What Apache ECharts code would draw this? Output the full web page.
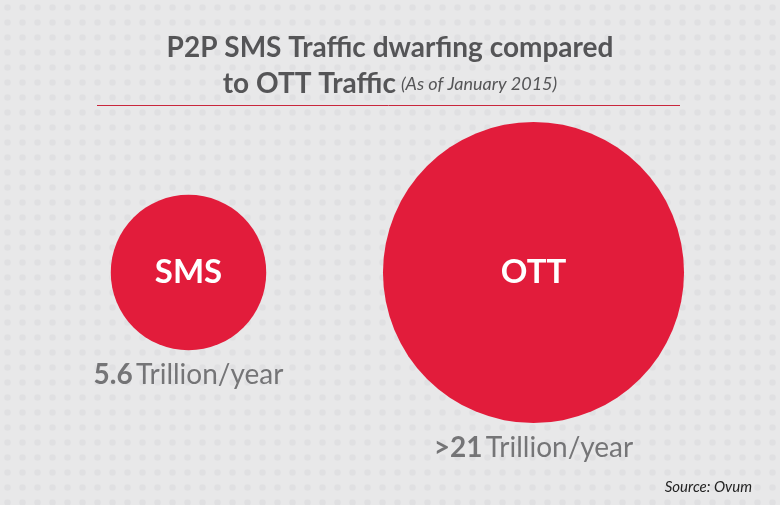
<!DOCTYPE html>
<html>
<head>
<meta charset="utf-8">
<script src="https://cdn.jsdelivr.net/npm/echarts@6/dist/echarts.min.js"></script>
<style>
  html, body { margin: 0; padding: 0; }
  #chart { width: 780px; height: 505px; }
</style>
</head>
<body>
<div id="chart"></div>
<script>
// data
const categories = ['SMS', 'OTT'];
const trillionsPerYear = [5.6, 21];
const valuePrefix = ['', '>'];
const valueUnit = 'Trillion/year';

const FONT = 'Lato, "Open Sans", sans-serif';
const RED = '#e21c3b';

// light grey background with soft dot grid
function dotPattern() {
  const c = document.createElement('canvas');
  c.width = 15; c.height = 15;
  const ctx = c.getContext('2d');
  ctx.fillStyle = '#e8e8e9';
  ctx.fillRect(0, 0, 15, 15);
  ctx.fillStyle = '#e0e0e2';
  ctx.beginPath();
  ctx.arc(7.5, 7.5, 3.2, 0, Math.PI * 2);
  ctx.fill();
  return c;
}

// bubble area proportional to value
function bubbleSize(v) {
  return 65.7 * Math.sqrt(v);
}

const points = categories.map((c, i) => ({ name: c, value: [c, 0, trillionsPerYear[i]] }));

const chart = echarts.init(document.getElementById('chart'));
chart.setOption({
  backgroundColor: { image: dotPattern(), repeat: 'repeat' },
  title: {
    left: 'center',
    top: 25,
    text: '{b|P2P SMS Traffic dwarfing compared}\n{b|to OTT Traffic} {i|(As of January 2015)}',
    textStyle: {
      rich: {
        b: { fontFamily: FONT, fontWeight: 'bold', fontSize: 28, color: '#555557', lineHeight: 36 },
        i: { fontFamily: FONT, fontStyle: 'italic', fontWeight: 'normal', fontSize: 18, color: '#555557', lineHeight: 36 }
      }
    }
  },
  graphic: [
    {
      type: 'line',
      shape: { x1: 97, y1: 105.5, x2: 680, y2: 105.5 },
      style: { stroke: '#c9273d', lineWidth: 1 }
    },
    {
      type: 'text',
      right: 28,
      top: 480,
      style: { text: 'Source: Ovum', font: 'italic 15px ' + FONT, fill: '#222' }
    }
  ],
  grid: { left: 16, right: 74, top: 120, bottom: 80 },
  xAxis: { type: 'category', data: categories, show: false },
  yAxis: { type: 'value', min: -1, max: 1, show: false },
  series: [
    {
      type: 'scatter',
      data: points,
      symbolSize: d => bubbleSize(d[2]),
      itemStyle: { color: RED, opacity: 1 },
      label: {
        show: true,
        position: 'inside',
        formatter: p => p.name,
        fontFamily: FONT,
        fontWeight: 'bold',
        fontSize: 33,
        color: '#fff'
      },
      emphasis: { disabled: true },
      silent: true
    },
    {
      type: 'scatter',
      data: points,
      symbolSize: d => bubbleSize(d[2]),
      itemStyle: { color: 'transparent' },
      label: {
        show: true,
        position: 'bottom',
        distance: 11,
        formatter: p => '{b|' + valuePrefix[p.dataIndex] + trillionsPerYear[p.dataIndex] + '} {n|' + valueUnit + '}',
        rich: {
          b: { fontFamily: FONT, fontWeight: 'bold', fontSize: 28, color: '#58585a' },
          n: { fontFamily: FONT, fontSize: 28, color: '#58585a' }
        }
      },
      emphasis: { disabled: true },
      silent: true
    }
  ]
});
</script>
</body>
</html>
